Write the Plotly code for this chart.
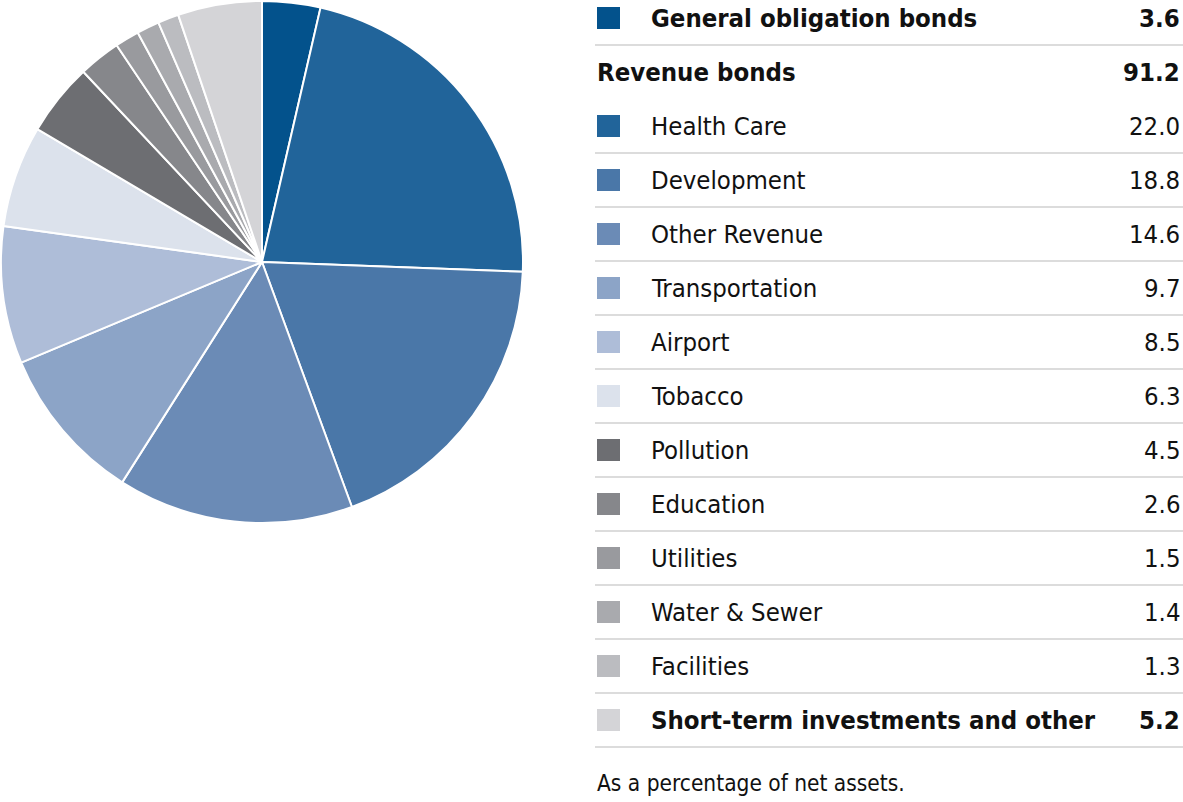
import plotly.graph_objects as go

W, H = 1183, 802

categories = ["General obligation bonds", "Health Care", "Development", "Other Revenue",
              "Transportation", "Airport", "Tobacco", "Pollution", "Education",
              "Utilities", "Water & Sewer", "Facilities", "Short-term investments and other"]
values = [3.6, 22.0, 18.8, 14.6, 9.7, 8.5, 6.3, 4.5, 2.6, 1.5, 1.4, 1.3, 5.2]
colors = ["#03528C", "#21649A", "#4A77A8", "#6B8BB6", "#8CA4C7", "#AEBDD8", "#DCE2EC",
          "#6D6E72", "#86878B", "#999A9E", "#A9AAAE", "#BBBCC0", "#D4D4D7"]
bold_flags = [True, False, False, False, False, False, False, False, False, False, False, False, True]
group_label = "Revenue bonds"
group_value = 91.2
footnote = "As a percentage of net assets."

FONT = "Liberation Sans Narrow, DejaVu Sans Condensed, Arial Narrow, sans-serif"

fig = go.Figure()
fig.add_trace(go.Pie(
    labels=categories, values=values, sort=False, direction="clockwise", rotation=0,
    marker=dict(colors=colors, line=dict(color="white", width=2)),
    textinfo="none", hoverinfo="label+value", showlegend=False,
    domain=dict(x=[1 / W, 523 / W], y=[1 - 523 / H, 1 - 1 / H]),
))

def px(x):
    return x / W

def py(y):
    return 1 - y / H

rows = [(categories[0], values[0], colors[0], True)]
rows.append((group_label, group_value, None, True))
for i in range(1, len(categories) - 1):
    rows.append((categories[i], values[i], colors[i], bold_flags[i]))
rows.append((categories[-1], values[-1], colors[-1], True))

annotations = []
shapes = []
row_h = 54
y0 = 18
for i, (lab, val, col, b) in enumerate(rows):
    yc = y0 + row_h * i
    lx = 649 if col is not None else 595
    txt = f"<b>{lab}</b>" if b else lab
    vtxt = f"<b>{val:.1f}</b>" if b else f"{val:.1f}"
    annotations.append(dict(x=px(lx), y=py(yc), xref="paper", yref="paper", text=txt,
                            showarrow=False, xanchor="left", yanchor="middle",
                            font=dict(family=FONT, size=25.5, color="#111")))
    annotations.append(dict(x=px(1182), y=py(yc), xref="paper", yref="paper", text=vtxt,
                            showarrow=False, xanchor="right", yanchor="middle",
                            font=dict(family=FONT, size=25.5, color="#111")))
    if col is not None:
        shapes.append(dict(type="rect", xref="paper", yref="paper",
                           x0=px(597), x1=px(620), y0=py(yc - 11), y1=py(yc + 11),
                           fillcolor=col, line=dict(width=0)))
        ys = yc + 27
        shapes.append(dict(type="line", xref="paper", yref="paper",
                           x0=px(595), x1=px(1183), y0=py(ys), y1=py(ys),
                           line=dict(color="#DCDCDC", width=2)))

annotations.append(dict(x=px(595), y=py(783), xref="paper", yref="paper", text=footnote,
                        showarrow=False, xanchor="left", yanchor="middle",
                        font=dict(family=FONT, size=22.5, color="#111")))

fig.update_layout(width=W, height=H, margin=dict(l=0, r=0, t=0, b=0),
                  paper_bgcolor="white", plot_bgcolor="white",
                  annotations=annotations, shapes=shapes)

fig.write_html("out.html", config={"displayModeBar": False},
               post_script="document.body.style.margin='0';document.body.style.overflow='hidden';")
